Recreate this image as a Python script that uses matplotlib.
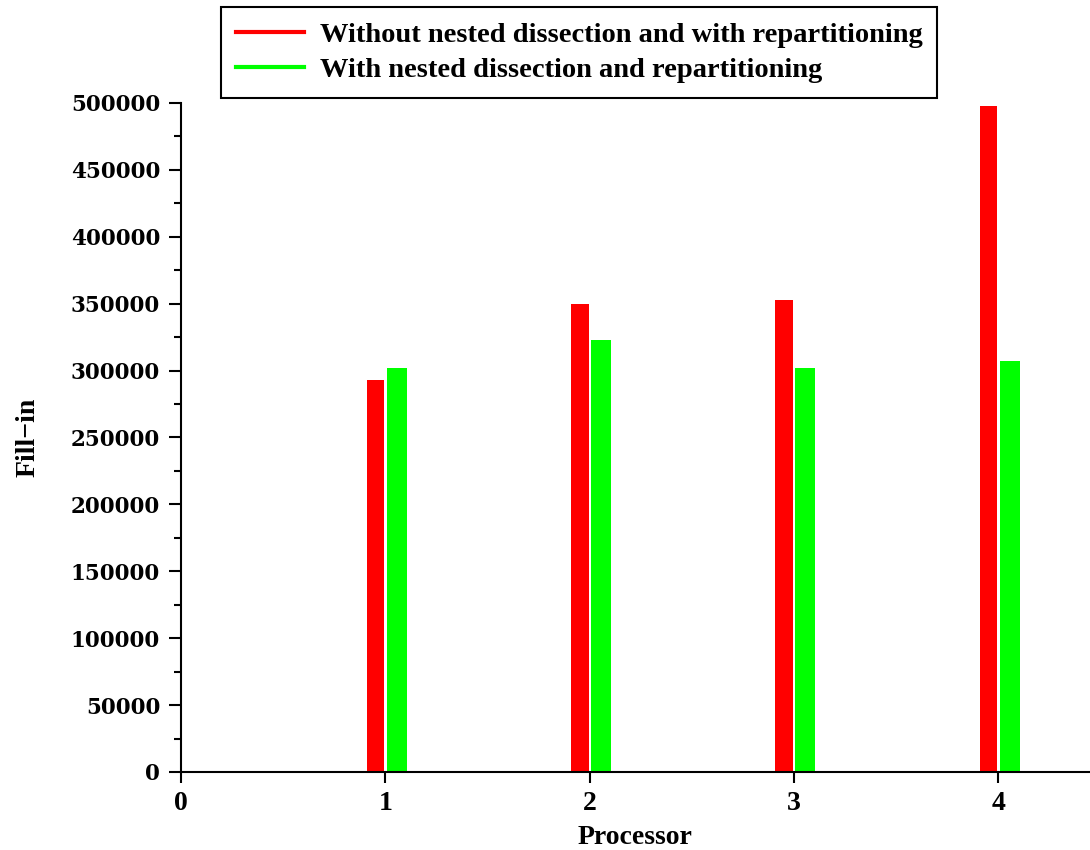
import matplotlib
matplotlib.use("Agg")
import matplotlib.pyplot as plt
from matplotlib.lines import Line2D
from matplotlib.ticker import MultipleLocator

# Fill-in per processor for the two ordering strategies
processors = [1, 2, 3, 4]
without_nd = [293000, 350000, 353000, 498000]
with_nd = [302000, 323000, 302000, 307500]
series_labels = [
    "Without nested dissection and with repartitioning",
    "With nested dissection and repartitioning",
]
series_colors = ["#ff0000", "#00ff00"]
x_ticks = [0, 1, 2, 3, 4]
y_ticks = list(range(0, 500001, 50000))

serif = ["Liberation Serif", "DejaVu Serif"]

fig = plt.figure(figsize=(10.9, 8.5), dpi=100)
ax = fig.add_axes([181 / 1090, 78 / 850, 1 - 181 / 1090, (772 - 103) / 850])

ax.bar([p - 0.09 for p in processors], without_nd, width=0.086, align="edge",
       color=series_colors[0], linewidth=0)
ax.bar([p + 0.008 for p in processors], with_nd, width=0.097, align="edge",
       color=series_colors[1], linewidth=0)

ax.set_xlim(0, 4.45)
ax.set_ylim(0, 500000)
ax.set_xticks(x_ticks)
ax.set_xticklabels([str(t) for t in x_ticks], fontfamily=serif,
                   fontweight="bold", fontsize=20)
ax.set_yticks(y_ticks)
ax.set_yticklabels([str(t) for t in y_ticks], fontfamily="DejaVu Serif",
                   fontweight="bold", fontsize=15.5)
ax.yaxis.set_minor_locator(MultipleLocator(25000))

for side in ("top", "right"):
    ax.spines[side].set_visible(False)
for side in ("left", "bottom"):
    ax.spines[side].set_linewidth(1.5)

ax.tick_params(axis="y", which="major", direction="out", length=9, width=1.5, pad=6)
ax.tick_params(axis="y", which="minor", direction="out", length=5, width=1.5)
ax.tick_params(axis="x", which="major", direction="out", length=8, width=1.5, pad=6)

ax.set_xlabel("Processor", fontfamily=serif, fontweight="bold", fontsize=20,
              labelpad=6)
ax.set_ylabel("Fill\u2212in", fontfamily=serif, fontweight="bold", fontsize=20,
              labelpad=22)

handles = [Line2D([], [], color=c, linewidth=3) for c in series_colors]
leg = fig.legend(handles, series_labels, loc="upper left",
                 bbox_to_anchor=(221 / 1090, 1 - 7 / 850),
                 prop={"family": serif, "weight": "bold", "size": 20.5},
                 handlelength=2.4, handletextpad=0.55, labelspacing=0.32,
                 borderpad=0.52, borderaxespad=0, fancybox=False,
                 framealpha=1, edgecolor="black")
leg.get_frame().set_linewidth(1.5)

fig.savefig("out.png", dpi=100)
